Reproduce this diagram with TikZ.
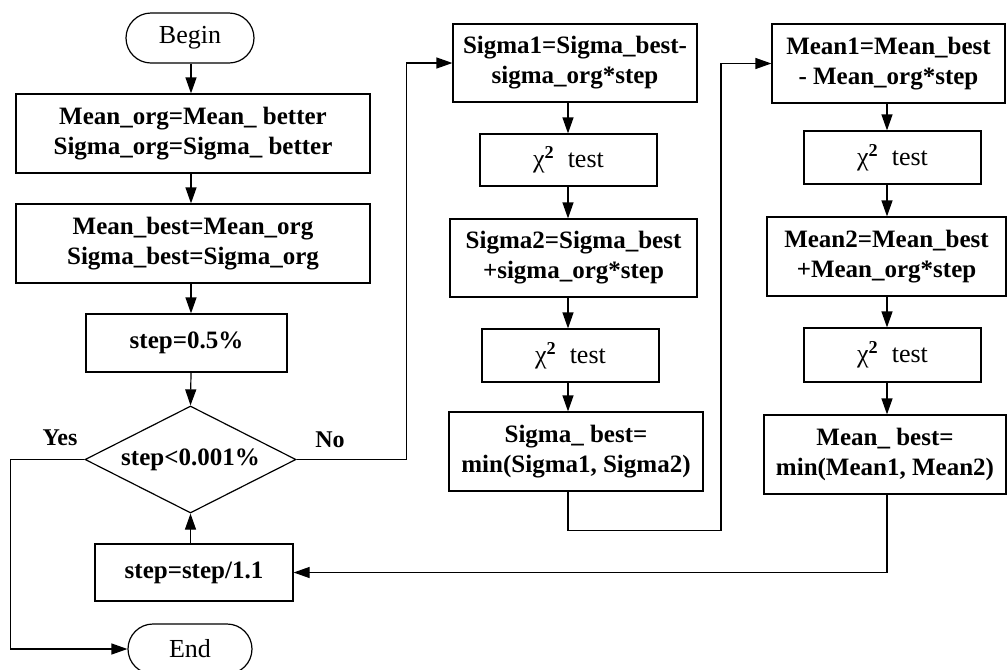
\documentclass[tikz,border=0pt]{standalone}
\usepackage{fontspec}
\setmainfont{Liberation Serif}
\usetikzlibrary{shapes.geometric,arrows.meta}
\begin{document}
\begin{tikzpicture}[x=0.5pt,y=-0.5pt,
  sz/.style 2 args={minimum width={#1*0.5pt}, minimum height={#2*0.5pt}},
  box/.style={draw,line width=0.6pt,rectangle,inner sep=0pt,align=center,
    font=\bfseries\fontsize{12.5}{15}\selectfont},
  chi/.style={draw,line width=0.6pt,rectangle,inner sep=0pt,align=center,
    font=\fontsize{13}{15.6}\selectfont},
  term/.style={draw,line width=0.6pt,rectangle,rounded corners=12.5pt,inner sep=0pt,
    font=\fontsize{13}{15.6}\selectfont},
  dec/.style={draw,line width=0.6pt,diamond,aspect=2,inner sep=0pt,
    font=\bfseries\fontsize{12.5}{15}\selectfont},
  lab/.style={inner sep=0pt,font=\bfseries\fontsize{12}{14}\selectfont},
  arr/.style={line width=0.6pt,-{Triangle[length=8pt,width=5.5pt]}},
  ln/.style={line width=0.6pt}]
\useasboundingbox (0,0) rectangle (1008,670);
\clip (0,0) rectangle (1008,670);
\coordinate (colA) at (191,0);
\coordinate (colS) at (568,0);
\coordinate (colM) at (887,0);
% left column
\node[term, sz={128}{50}] (begin) at (190,38) {Begin};
\node[box, sz={354}{79}] (b1) at (193,133.5) {Mean\_org=Mean\_ better\\Sigma\_org=Sigma\_ better};
\node[box, sz={354}{79}] (b2) at (193,243.5) {Mean\_best=Mean\_org\\Sigma\_best=Sigma\_org};
\node[box, sz={201}{58}] (st) at (186.5,343) {step=0.5\%};
\node[dec, sz={211}{107}] (d) at (190.5,459.5) {step<0.001\%};
\node[box, sz={198}{57}] (st2) at (194,572.5) {step=step/1.1};
\node[term, sz={124}{50}] (end) at (190,649) {End};
\node[lab] (yes) at (60,438) {Yes};
\node[lab] (no) at (330,440) {No};
% sigma column
\node[box, sz={244}{78}] (s1) at (575,63) {Sigma1=Sigma\_best-\\sigma\_org*step};
\node[chi, sz={177}{52}] (c1) at (568.5,160) {χ\textsuperscript{\textbf{2}}~ test};
\node[box, sz={247}{78}] (s2) at (573.5,258) {Sigma2=Sigma\_best\\+sigma\_org*step};
\node[chi, sz={177}{53}] (c2) at (570.5,355.5) {χ\textsuperscript{\textbf{2}}~ test};
\node[box, sz={254}{79}] (sb) at (576,451.5) {Sigma\_ best=\\min(Sigma1, Sigma2)};
% mean column
\node[box, sz={233}{79}] (m1) at (888.5,63.5) {Mean1=Mean\_best\\- Mean\_org*step};
\node[chi, sz={177}{53}] (mc1) at (892.5,157.5) {χ\textsuperscript{\textbf{2}}~ test};
\node[box, sz={239}{79}] (m2) at (886.5,256.5) {Mean2=Mean\_best\\+Mean\_org*step};
\node[chi, sz={177}{54}] (mc2) at (892.5,355) {χ\textsuperscript{\textbf{2}}~ test};
\node[box, sz={242}{79}] (mb) at (885,454.5) {Mean\_ best=\\min(Mean1, Mean2)};
% connectors left
\draw[arr] (begin.south -| colA) -- (b1.north -| colA);
\draw[arr] (b1.south -| colA) -- (b2.north -| colA);
\draw[arr] (b2.south -| colA) -- (st.north -| colA);
\draw[arr] (st.south -| colA) -- (d.north);
\draw[arr] (st2.north -| d.south) -- (d.south);
\draw[arr] (d.west) -- ++(-74,0) |- (end.west);
\draw[arr] (d.east) -- ++(110,0) |- (s1.west);
% connectors sigma
\draw[arr] (s1.south -| colS) -- (c1.north -| colS);
\draw[arr] (c1.south -| colS) -- (s2.north -| colS);
\draw[arr] (s2.south -| colS) -- (c2.north -| colS);
\draw[arr] (c2.south -| colS) -- (sb.north -| colS);
\draw[arr] (sb.south -| colS) -- ++(0,39) -- ++(153,0) |- (m1.west);
% connectors mean
\draw[arr] (m1.south -| colM) -- (mc1.north -| colM);
\draw[arr] (mc1.south -| colM) -- (m2.north -| colM);
\draw[arr] (m2.south -| colM) -- (mc2.north -| colM);
\draw[arr] (mc2.south -| colM) -- (mb.north -| colM);
\draw[arr] (mb.south -| colM) |- (st2.east);
\end{tikzpicture}
\end{document}
